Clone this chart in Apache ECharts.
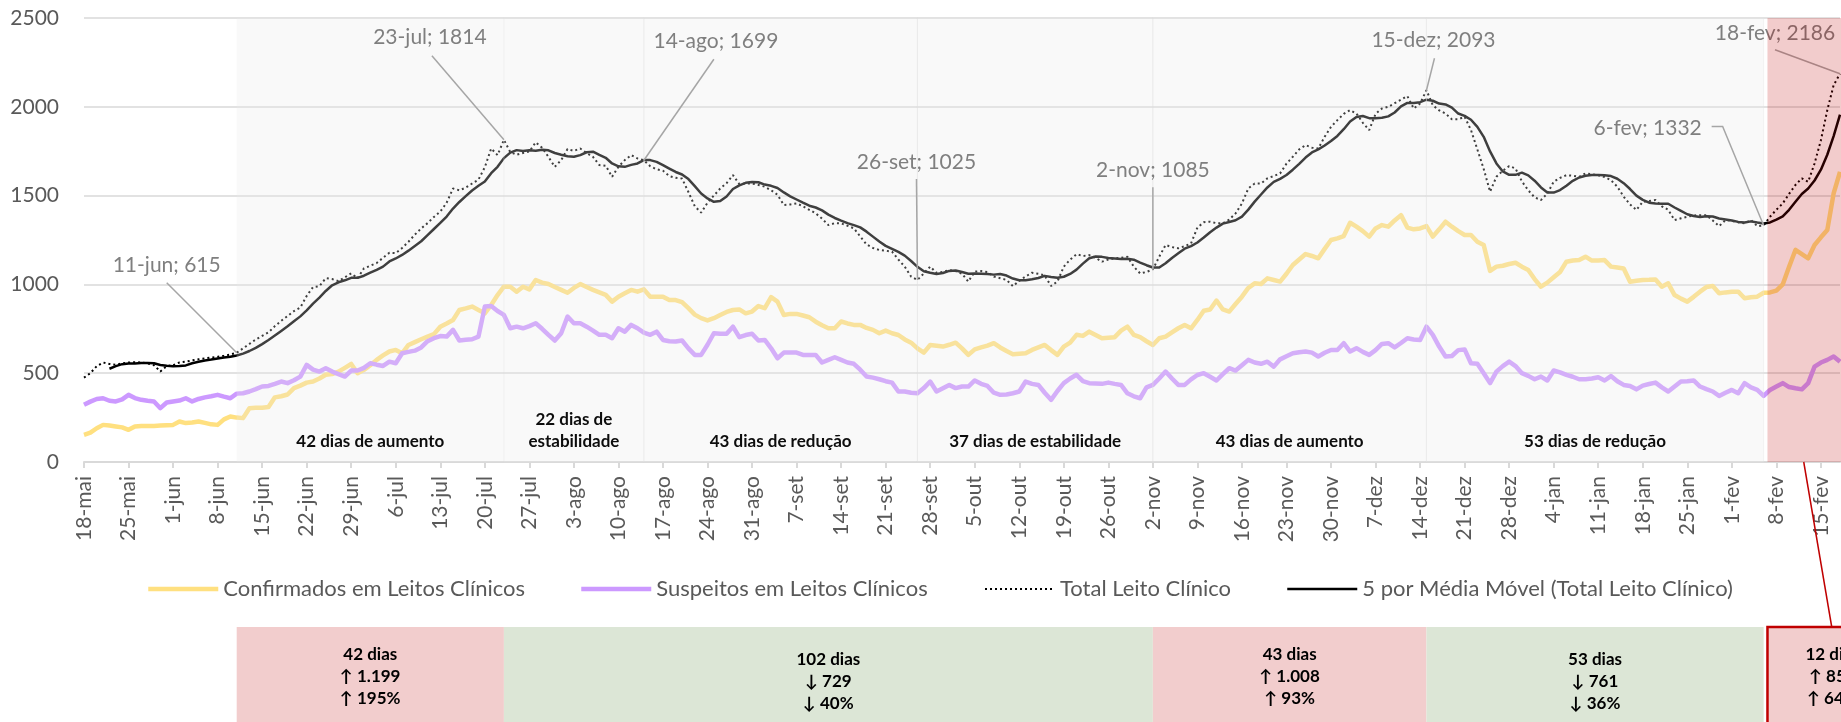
<!DOCTYPE html>
<html lang="pt">
<head>
    <meta charset="UTF-8">
    <title>Leitos Clínicos</title>
    <script src="https://cdn.jsdelivr.net/npm/echarts@6/dist/echarts.min.js"></script>
    <style>
        html, body { margin: 0; padding: 0; background: #fff; }
        #chart { width: 1841px; height: 722px; }
    </style>
</head>
<body>
<div id="chart"></div>
<script>
    // um ponto por dia, de 18-mai-2020 a 18-fev-2021
    var meses = ['jan', 'fev', 'mar', 'abr', 'mai', 'jun', 'jul', 'ago', 'set', 'out', 'nov', 'dez'];
    var dias = [];
    for (var t = Date.UTC(2020, 4, 18); t <= Date.UTC(2021, 1, 18); t += 86400000) {
        var dt = new Date(t);
        dias.push(dt.getUTCDate() + '-' + meses[dt.getUTCMonth()]);
    }

    var confirmados = [
        153, 165, 190, 209, 205, 200, 195, 181, 200, 203,
        203, 203, 205, 207, 209, 228, 219, 222, 228, 220,
        212, 209, 240, 256, 250, 247, 303, 305, 306, 310,
        364, 370, 380, 416, 430, 447, 453, 470, 491, 495,
        509, 530, 552, 500, 519, 545, 575, 600, 622, 631,
        612, 659, 675, 691, 706, 720, 762, 780, 800, 856,
        865, 875, 856, 837, 884, 940, 987, 987, 959, 987,
        972, 1025, 1010, 1002, 985, 969, 953, 980, 1002, 985,
        969, 955, 941, 903, 931, 950, 969, 959, 972, 931,
        931, 931, 912, 912, 900, 866, 830, 810, 797, 810,
        828, 845, 856, 859, 837, 847, 878, 866, 928, 903,
        828, 834, 834, 825, 815, 790, 770, 753, 753, 791,
        780, 772, 772, 755, 744, 725, 740, 725, 715, 690,
        672, 640, 616, 659, 655, 650, 660, 672, 640, 603,
        634, 645, 655, 669, 645, 625, 607, 610, 612, 631,
        645, 659, 630, 603, 650, 672, 716, 710, 734, 715,
        697, 700, 703, 740, 762, 716, 703, 680, 659, 697,
        706, 730, 753, 772, 753, 800, 852, 859, 909, 859,
        847, 890, 931, 980, 1006, 1002, 1034, 1025, 1016, 1060,
        1109, 1140, 1171, 1160, 1147, 1200, 1250, 1259, 1272, 1347,
        1325, 1300, 1269, 1315, 1334, 1325, 1360, 1390, 1320, 1310,
        1315, 1328, 1269, 1310, 1353, 1325, 1300, 1278, 1278, 1240,
        1222, 1076, 1100, 1105, 1115, 1122, 1100, 1081, 1030, 987,
        1010, 1040, 1070, 1128, 1135, 1137, 1156, 1134, 1135, 1137,
        1100, 1095, 1090, 1015, 1020, 1025, 1026, 1028, 987, 1006,
        940, 920, 903, 930, 959, 985, 991, 950, 955, 959,
        959, 922, 928, 931, 953, 955, 965, 1000, 1100, 1194,
        1170, 1147, 1222, 1265, 1306, 1512, 1634
    ];

    var suspeitos = [
        322, 340, 355, 359, 345, 341, 353, 378, 360, 350,
        345, 341, 303, 335, 341, 346, 359, 341, 355, 364,
        370, 378, 368, 359, 385, 387, 397, 410, 425, 428,
        440, 453, 444, 460, 481, 547, 520, 509, 528, 509,
        495, 481, 515, 515, 530, 556, 548, 541, 565, 556,
        612, 620, 627, 645, 680, 697, 709, 706, 744, 684,
        688, 691, 706, 875, 878, 850, 828, 753, 762, 753,
        765, 781, 750, 716, 684, 725, 819, 781, 781, 762,
        740, 716, 716, 697, 753, 734, 772, 753, 728, 716,
        734, 687, 680, 678, 684, 640, 603, 603, 660, 725,
        722, 722, 762, 703, 715, 722, 684, 687, 640, 584,
        616, 616, 616, 603, 603, 603, 560, 575, 590, 575,
        560, 553, 520, 481, 475, 466, 455, 447, 397, 397,
        390, 387, 416, 453, 397, 415, 434, 416, 425, 425,
        459, 440, 428, 390, 378, 380, 387, 397, 453, 440,
        434, 390, 350, 400, 444, 470, 491, 455, 444, 442,
        440, 447, 440, 434, 387, 370, 359, 420, 434, 470,
        509, 470, 434, 434, 465, 490, 500, 480, 459, 495,
        528, 515, 545, 575, 560, 553, 565, 537, 578, 595,
        612, 618, 622, 616, 594, 615, 631, 631, 669, 622,
        641, 620, 603, 630, 665, 669, 645, 670, 697, 690,
        687, 762, 716, 650, 594, 597, 630, 634, 556, 553,
        500, 444, 509, 540, 565, 540, 500, 485, 466, 481,
        459, 515, 505, 491, 480, 466, 466, 470, 477, 459,
        484, 455, 434, 428, 409, 430, 439, 447, 420, 397,
        425, 453, 455, 459, 425, 410, 397, 372, 390, 406,
        387, 444, 420, 406, 372, 406, 425, 444, 422, 415,
        409, 444, 537, 560, 575, 594, 565
    ];

    var total = [
        475, 500, 540, 560, 552, 548, 555, 560, 562, 560,
        555, 545, 510, 540, 545, 560, 565, 572, 578, 583,
        588, 592, 598, 605, 615, 640, 665, 690, 710, 730,
        765, 795, 822, 850, 870, 935, 985, 990, 1035, 1030,
        1018, 1040, 1062, 1035, 1090, 1105, 1120, 1150, 1178, 1176,
        1205, 1240, 1280, 1315, 1345, 1380, 1410, 1460, 1540, 1530,
        1545, 1568, 1590, 1660, 1765, 1728, 1814, 1745, 1730, 1740,
        1748, 1800, 1770, 1718, 1662, 1700, 1762, 1752, 1765, 1740,
        1718, 1672, 1668, 1606, 1662, 1700, 1728, 1709, 1699, 1665,
        1648, 1640, 1610, 1600, 1596, 1520, 1440, 1404, 1460, 1500,
        1540, 1570, 1615, 1565, 1568, 1568, 1560, 1550, 1530, 1505,
        1447, 1450, 1456, 1440, 1420, 1400, 1370, 1334, 1345, 1344,
        1330, 1316, 1270, 1225, 1205, 1194, 1190, 1184, 1140, 1100,
        1044, 1025, 1062, 1100, 1065, 1070, 1081, 1075, 1060, 1016,
        1072, 1075, 1070, 1044, 1035, 1025, 990, 1020, 1045, 1066,
        1060, 1050, 991, 1016, 1100, 1140, 1170, 1160, 1165, 1150,
        1128, 1140, 1147, 1150, 1156, 1100, 1062, 1070, 1085, 1156,
        1222, 1210, 1203, 1215, 1231, 1320, 1350, 1353, 1345, 1344,
        1365, 1400, 1456, 1540, 1568, 1568, 1597, 1610, 1625, 1680,
        1719, 1760, 1784, 1770, 1765, 1831, 1887, 1925, 1960, 1981,
        1962, 1910, 1869, 1960, 1990, 2000, 2020, 2040, 2060, 1990,
        2019, 2093, 2009, 1980, 1962, 1930, 1930, 1944, 1869, 1760,
        1650, 1522, 1606, 1640, 1666, 1653, 1580, 1530, 1490, 1475,
        1512, 1578, 1600, 1615, 1612, 1606, 1625, 1620, 1615, 1605,
        1587, 1550, 1494, 1450, 1419, 1465, 1470, 1475, 1440, 1420,
        1362, 1372, 1381, 1388, 1390, 1390, 1360, 1328, 1362, 1358,
        1350, 1344, 1362, 1328, 1332, 1381, 1420, 1456, 1510, 1560,
        1597, 1578, 1681, 1812, 1981, 2122, 2186
    ];

    // linha de tendência do Excel: média móvel de 5 períodos sobre o total
    var mediaMovel = total.map(function (v, i) {
        if (i < 4) return null;
        var s = 0;
        for (var k = i - 4; k <= i; k++) s += total[k];
        return Math.round(s / 5);
    });

    var yTicks = [0, 500, 1000, 1500, 2000, 2500];

    // limites dos períodos e textos
    var periodos = ['11-jun', '23-jul', '14-ago', '26-set', '2-nov', '15-dez', '6-fev', '18-fev'];
    var rotulosPeriodo = [
        ['42 dias de aumento'],
        ['22 dias de', 'estabilidade'],
        ['43 dias de redução'],
        ['37 dias de estabilidade'],
        ['43 dias de aumento'],
        ['53 dias de redução']
    ];
    var resumos = [
        {ini: '11-jun', fim: '23-jul', linhas: ['42 dias', '↑ 1.199', '↑ 195%'], tipo: 'alta'},
        {ini: '23-jul', fim: '2-nov', linhas: ['102 dias', '↓ 729', '↓ 40%'], tipo: 'baixa'},
        {ini: '2-nov', fim: '15-dez', linhas: ['43 dias', '↑ 1.008', '↑ 93%'], tipo: 'alta'},
        {ini: '15-dez', fim: '6-fev', linhas: ['53 dias', '↓ 761', '↓ 36%'], tipo: 'baixa'},
        {ini: '6-fev', fim: null, linhas: ['12 dias', '↑ 854', '↑ 64%'], tipo: 'atual'}
    ];
    var notas = ['11-jun', '23-jul', '14-ago', '26-set', '2-nov', '15-dez', '6-fev', '18-fev'];

    var nomes = ['Confirmados em Leitos Clínicos', 'Suspeitos em Leitos Clínicos',
        'Total Leito Clínico', '5 por Média Móvel (Total Leito Clínico)'];

    var fonte = 'Lato';
    var chart = echarts.init(document.getElementById('chart'));

    function legenda(nome, left, largura) {
        return {
            data: [nome], left: left, top: 573,
            itemWidth: 70, itemHeight: 14, itemGap: 0,
            itemStyle: {opacity: 0},
            lineStyle: {width: largura},
            textStyle: {fontFamily: fonte, fontSize: 22, color: '#595959', padding: [0, 0, 0, 0]}
        };
    }

    chart.setOption({
        animation: false,
        backgroundColor: '#fff',
        textStyle: {fontFamily: fonte},
        grid: {left: 84, right: 1, top: 18, bottom: 260},
        legend: [
            legenda(nomes[0], 141, 4.5),
            legenda(nomes[1], 574, 4.5),
            legenda(nomes[2], 979, 2),
            legenda(nomes[3], 1281, 2.5)
        ],
        xAxis: {
            type: 'category',
            data: dias,
            boundaryGap: false,
            axisLine: {lineStyle: {color: '#d9d9d9', width: 2}},
            axisTick: {interval: 6, length: 6, lineStyle: {color: '#d9d9d9', width: 2}},
            axisLabel: {interval: 6, rotate: 90, margin: 14, fontSize: 21, fontFamily: fonte, color: '#595959'},
            splitLine: {show: false}
        },
        yAxis: {
            type: 'value',
            min: yTicks[0], max: yTicks[yTicks.length - 1], interval: 500,
            axisLine: {show: false},
            axisTick: {show: false},
            axisLabel: {
                margin: 25, fontSize: 21, fontFamily: fonte, color: '#595959',
                formatter: function (v) { return String(v); }
            },
            splitLine: {lineStyle: {color: '#d9d9d9', width: 1.5}}
        },
        series: [
            {
                name: nomes[0], type: 'line', data: confirmados, symbol: 'none',
                lineStyle: {color: '#FFE080', width: 4.5, join: 'round'},
                itemStyle: {color: '#FFE080'}
            },
            {
                name: nomes[1], type: 'line', data: suspeitos, symbol: 'none',
                lineStyle: {color: '#CC99FF', width: 4.5, join: 'round'},
                itemStyle: {color: '#CC99FF'}
            },
            {
                name: nomes[2], type: 'line', data: total, symbol: 'none',
                lineStyle: {color: '#000', width: 2, type: [2, 3]},
                itemStyle: {color: '#000'}
            },
            {
                name: nomes[3], type: 'line', data: mediaMovel, symbol: 'none', connectNulls: false,
                lineStyle: {color: '#000', width: 2.5, join: 'round'},
                itemStyle: {color: '#000'}
            }
        ]
    });

    // ---- elementos desenhados por cima, posicionados pelas escalas do gráfico ----
    function px(dia, valor) {
        return chart.convertToPixel({xAxisIndex: 0, yAxisIndex: 0}, [dias.indexOf(dia), valor]);
    }
    function xDia(dia) { return px(dia, 0)[0]; }

    var topo = px(dias[0], yTicks[yTicks.length - 1])[1];
    var base = px(dias[0], 0)[1];
    var passo = xDia(dias[1]) - xDia(dias[0]);
    var larguraTela = chart.getWidth();
    var g = [];

    // faixa cinza (véu claro sobre as linhas), um bloco por período
    for (var i = 0; i < 6; i++) {
        var x0 = xDia(periodos[i]), x1 = xDia(periodos[i + 1]);
        g.push({
            type: 'rect', silent: true, z: 10,
            shape: {x: x0, y: topo, width: x1 - x0, height: base - topo},
            style: {fill: 'rgba(233,233,233,0.27)', stroke: i > 0 ? 'rgba(225,225,225,0.35)' : null, lineWidth: 1}
        });
    }

    // chamadas: posição do texto e da linha relativas ao ponto
    var chamadas = [
        {t: [-70, -88], l: [[-70, -70]]},
        {t: [-74, -103], l: [[-72, -84]]},
        {t: [72, -119], l: [[70, -101]]},
        {t: [-1, -118], l: [[-1, -101]]},
        {t: [0, -99], l: [[0, -82]]},
        {t: [7, -50], l: [[8, -32]]},
        {t: [-116, -97], l: [[-52, -99], [-41, -99]]},
        {t: [-65, -41], l: [[-65, -24]]}
    ];
    notas.forEach(function (dia, k) {
        var valor = total[dias.indexOf(dia)];
        var p = px(dia, valor);
        var c = chamadas[k];
        var pts = c.l.map(function (o) { return [p[0] + o[0], p[1] + o[1]]; });
        pts.push([p[0], p[1]]);
        g.push({
            type: 'polyline', silent: true, z: 11,
            shape: {points: pts},
            style: {stroke: '#a6a6a6', lineWidth: 1.5, fill: null}
        });
        g.push({
            type: 'text', silent: true, z: 11,
            x: p[0] + c.t[0], y: p[1] + c.t[1],
            style: {
                text: dia + '; ' + valor, fill: '#7f7f7f', font: '21px ' + fonte,
                textAlign: 'center', textVerticalAlign: 'middle'
            }
        });
    });

    // período atual: véu vermelho
    var xAtual = xDia('6-fev') + passo * 0.6;
    g.push({
        type: 'rect', silent: true, z: 12,
        shape: {x: xAtual, y: topo, width: larguraTela - xAtual, height: base - topo},
        style: {fill: 'rgba(192,0,0,0.2)'}
    });

    // rótulos dos períodos junto ao eixo
    rotulosPeriodo.forEach(function (linhas, k) {
        var xc = (xDia(periodos[k]) + xDia(periodos[k + 1])) / 2;
        linhas.forEach(function (txt, j) {
            g.push({
                type: 'text', silent: true, z: 13,
                x: xc, y: base - 20 - 22 * (linhas.length - 1 - j),
                style: {
                    text: txt, fill: '#0d0d0d', font: 'bold 17px ' + fonte,
                    textAlign: 'center', textVerticalAlign: 'middle'
                }
            });
        });
    });

    // quadros de resumo abaixo da legenda
    var topoQuadro = 627;
    resumos.forEach(function (r) {
        var xa = r.tipo === 'atual' ? xAtual : xDia(r.ini);
        var xb = r.fim ? xDia(r.fim) : xa + 130;
        var cor = r.tipo === 'baixa' ? '#dce6d6' : '#f2cdcd';
        g.push({
            type: 'rect', silent: true, z: 5,
            shape: {x: xa, y: topoQuadro, width: xb - xa, height: 120},
            style: {
                fill: cor,
                stroke: r.tipo === 'atual' ? '#c00000' : null,
                lineWidth: r.tipo === 'atual' ? 2.5 : 0
            }
        });
        g.push({
            type: 'text', silent: true, z: 6,
            x: (xa + xb) / 2, y: r.tipo === 'baixa' ? 682 : 677,
            style: {
                text: r.linhas.join('\n'), fill: '#000', font: 'bold 17px ' + fonte,
                lineHeight: 22, textAlign: 'center', textVerticalAlign: 'middle'
            }
        });
    });

    // ligação do período atual ao quadro
    var xMeio = (xAtual + xDia('18-fev')) / 2;
    g.push({
        type: 'line', silent: true, z: 14,
        shape: {x1: xMeio, y1: base, x2: xMeio + 28, y2: topoQuadro},
        style: {stroke: '#c00000', lineWidth: 1.5}
    });

    chart.setOption({graphic: {elements: g}});
</script>
</body>
</html>
